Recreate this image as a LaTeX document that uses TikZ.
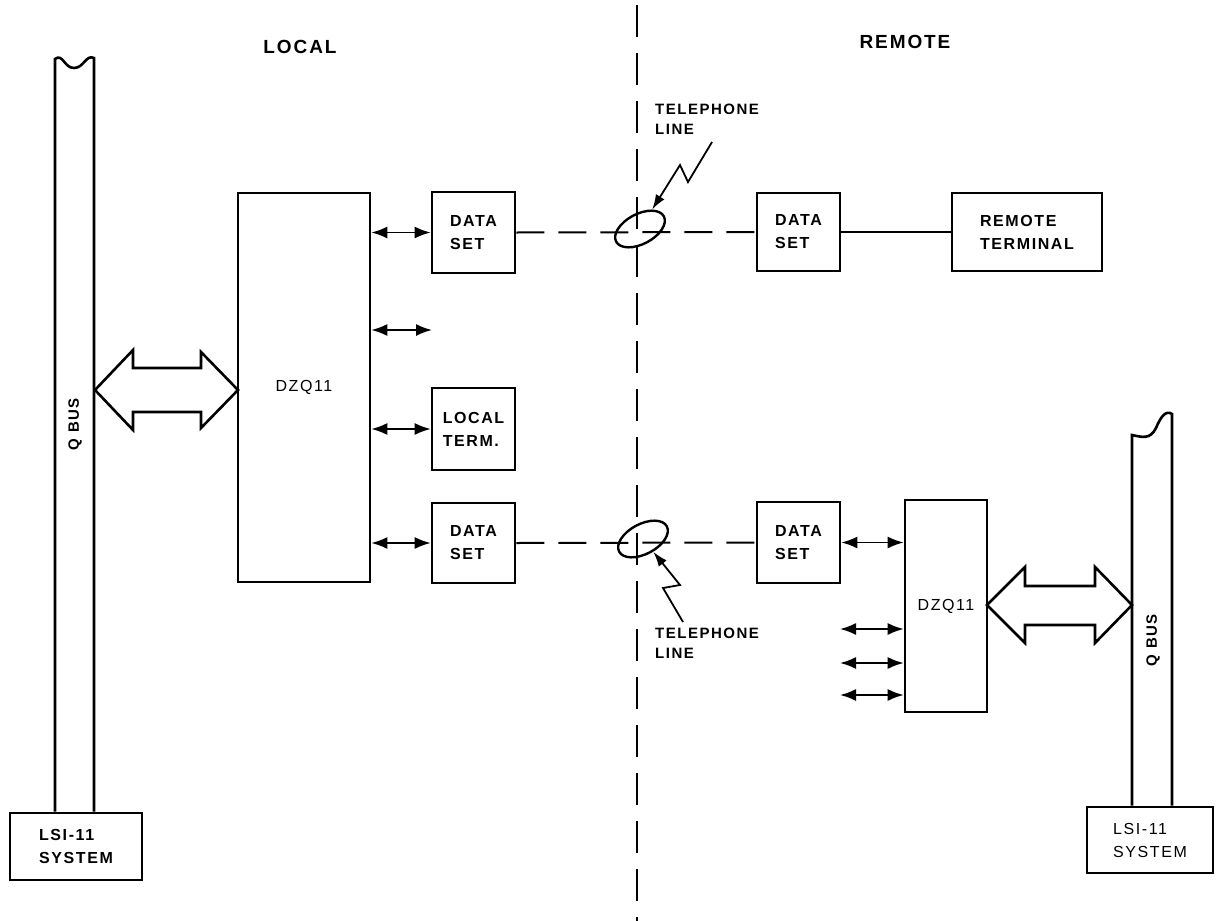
\documentclass[tikz,border=0pt]{standalone}
\usepackage{fontspec}
\usetikzlibrary{arrows.meta,shapes.geometric}
\newfontfamily\lblfont[LetterSpace=10]{Liberation Sans}
\newcommand{\lblsize}{\fontsize{16}{23}\selectfont}
\tikzset{
    box/.style={draw, line width=2.6pt, minimum width=83pt, minimum height=80pt,
        align=left, inner sep=0pt, font=\lblfont\bfseries\lblsize},
    dbl/.style={{Latex[length=16pt,width=12pt]}-{Latex[length=16pt,width=12pt]}, line width=1.8pt},
    wire/.style={line width=2pt, dash pattern=on 28pt off 14pt},
    border/.style={line width=1.8pt, dash pattern=on 32pt off 16pt},
    bolt/.style={-{Latex[length=15pt,width=10pt]}, line width=1.8pt},
    fat/.style={line width=2.6pt, fill=white, line join=miter},
    tel/.style={draw, ellipse, line width=2.4pt, minimum width=54pt, minimum height=30pt, rotate=28},
    tellbl/.style={anchor=north west, align=left, inner sep=0pt, font=\lblfont\bfseries\fontsize{15}{20}\selectfont},
}
\begin{document}
\begin{tikzpicture}[x=1pt, y=-1pt]
    \useasboundingbox (0,0) rectangle (1216,921);

    % Headings
    \node[font=\lblfont\bfseries\fontsize{19}{22}\selectfont] (hdlocal) at (300,47) {LOCAL};
    \node[font=\lblfont\bfseries\fontsize{19}{22}\selectfont] (hdremote) at (905,42) {REMOTE};

    % Border between local and remote
    \coordinate (bordertop) at (637,5);
    \coordinate (borderbot) at (637,921);
    \draw[border] (bordertop) -- (borderbot);

    % Local side
    \node[box, minimum width=132pt, minimum height=67pt] (lsiL) at (76,846.5) {LSI-11\\SYSTEM};
    \node[box, minimum width=132pt, minimum height=389pt, font=\lblfont\lblsize] (dzqL) at (304,387.5) {DZQ11};
    \node[box, minimum height=81pt] (dsA) at (473.5,232.5) {DATA\\SET};
    \node[box, minimum height=82pt] (ltrm) at (473.5,429) {LOCAL\\TERM.};
    \node[box] (dsC) at (473.5,543) {DATA\\SET};
    \coordinate (freeA) at (432,330);

    % Remote side
    \node[box, minimum height=78pt] (dsB) at (798.5,232) {DATA\\SET};
    \node[box, minimum width=150pt, minimum height=78pt] (rterm) at (1027,232) {REMOTE\\TERMINAL};
    \node[box, minimum height=81pt] (dsD) at (798.5,542.5) {DATA\\SET};
    \node[box, minimum width=82pt, minimum height=212pt, font=\lblfont\lblsize] (dzqR) at (946,606) {DZQ11};
    \node[box, minimum width=126pt, minimum height=66pt, font=\lblfont\lblsize] (lsiR) at (1150,840) {LSI-11\\SYSTEM};
    \coordinate (freeR1) at (840,629);
    \coordinate (freeR2) at (840,663);
    \coordinate (freeR3) at (840,695);

    % Q buses
    \coordinate (busLl) at (55,59);
    \coordinate (busLr) at (94,58);
    \draw[line width=2.6pt] (busLl |- lsiL.north) -- (busLl)
        .. controls (63,53) and (64,68) .. (74,68)
        .. controls (84,68) and (86,54) .. (busLr) -- (busLr |- lsiL.north);
    \node[rotate=90, font=\lblfont\bfseries\fontsize{15}{18}\selectfont] (qbusL) at (75,424) {Q BUS};

    \coordinate (busRl) at (1132,435);
    \coordinate (busRr) at (1172,414);
    \draw[line width=2.6pt] (busRl |- lsiR.north) -- (busRl)
        .. controls (1142,437) and (1150,440) .. (1156,428)
        .. controls (1161,416) and (1166,410) .. (busRr) -- (busRr |- lsiR.north);
    \node[rotate=90, font=\lblfont\bfseries\fontsize{15}{18}\selectfont] (qbusR) at (1153,640) {Q BUS};

    % Bus transfer arrows
    \draw[fat] (95,390) -- (133,350) -- (133,368) -- (201,368) -- (201,352) -- (238,390)
        -- (201,428) -- (201,412) -- (133,412) -- (133,430) -- cycle;
    \draw[fat] (987,605) -- (1025,567) -- (1025,586) -- (1095,586) -- (1095,567) -- (1132,605)
        -- (1095,643) -- (1095,625) -- (1025,625) -- (1025,643) -- cycle;

    % Line connections
    \draw[dbl] (dzqL.east |- dsA) -- (dsA.west);
    \draw[dbl] (dzqL.east |- freeA) -- (freeA);
    \draw[dbl] (dzqL.east |- ltrm) -- (ltrm.west);
    \draw[dbl] (dzqL.east |- dsC) -- (dsC.west);
    \draw[dbl] (dsD.east) -- (dzqR.west |- dsD);
    \draw[dbl] (freeR1) -- (dzqR.west |- freeR1);
    \draw[dbl] (freeR2) -- (dzqR.west |- freeR2);
    \draw[dbl] (freeR3) -- (dzqR.west |- freeR3);
    \draw[line width=2pt] (dsB.east) -- (rterm.west |- dsB.east);

    % Telephone lines
    \draw[wire] (dsA.east) -- (dsB.west);
    \draw[wire] (dsC.east) -- (dsD.west);
    \node[tel] (telA) at (640,229) {};
    \node[tel] (telB) at (643,539) {};

    \node[tellbl] (telAlbl) at (655,104) {TELEPHONE\\LINE};
    \node[tellbl] (telBlbl) at (655,628) {TELEPHONE\\LINE};
    \coordinate (boltA) at (712,142);
    \coordinate (boltB) at (683,622);
    \draw[bolt] (boltA) -- (688,182) -- (680,165) -- (telA);
    \draw[bolt] (boltB) -- (663,588) -- (680,585) -- (telB);
\end{tikzpicture}
\end{document}
